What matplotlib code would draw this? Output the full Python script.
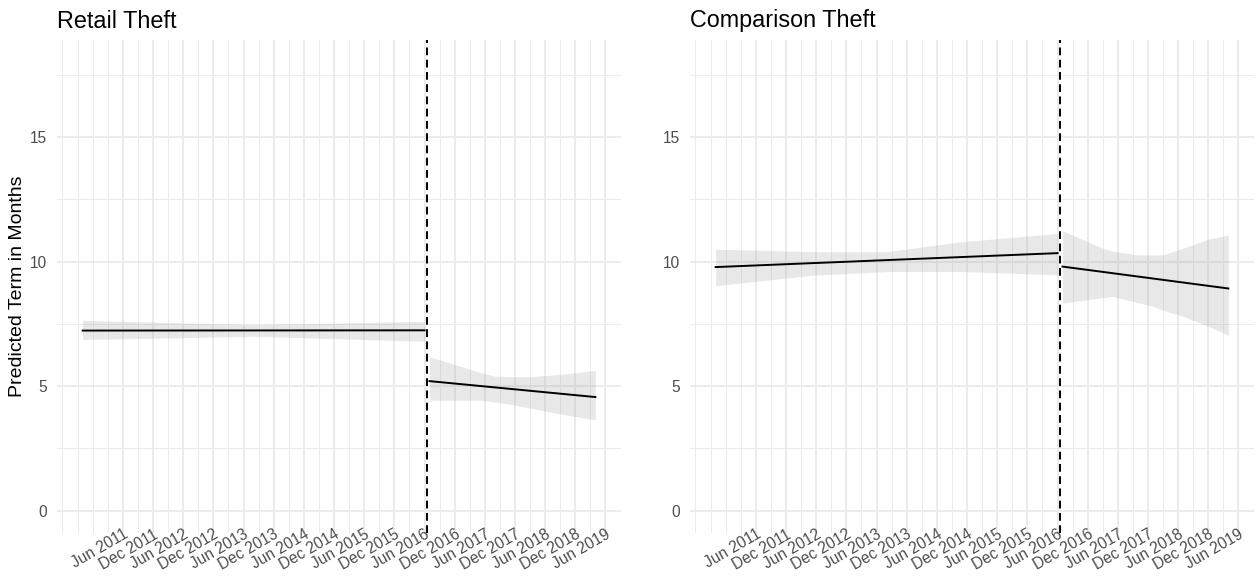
import numpy as np
import matplotlib
matplotlib.use("Agg")
import matplotlib.pyplot as plt
import matplotlib.dates as mdates

plt.rcParams['font.family'] = ['Liberation Sans', 'DejaVu Sans']

# fitted lines (start / end of each segment)
pre_dates = ["2010-10-01", "2016-06-01"]
post_dates = ["2016-07-01", "2019-04-01"]
cutoff = "2016-06-16"

retail_pre_fit = [7.23, 7.24]
retail_post_fit = [5.20, 4.56]
comp_pre_fit = [9.78, 10.34]
comp_post_fit = [9.80, 8.92]

# confidence bands
retail_pre_band_dates = ["2010-10-01", "2013-08-01", "2016-06-01"]
retail_pre_hi = [7.64, 7.47, 7.60]
retail_pre_lo = [6.87, 7.00, 6.80]

retail_post_band_dates = ["2016-07-01", "2017-02-01", "2017-05-01", "2017-08-01", "2017-11-01",
                          "2018-03-01", "2018-06-01", "2018-09-01", "2019-04-01"]
retail_post_hi = [6.18, 5.74, 5.55, 5.40, 5.38, 5.38, 5.42, 5.47, 5.63]
retail_post_lo = [4.43, 4.43, 4.43, 4.36, 4.27, 4.12, 4.00, 3.88, 3.64]

comp_pre_band_dates = ["2010-10-01", "2012-05-01", "2013-08-01", "2014-11-01", "2016-06-01"]
comp_pre_hi = [10.50, 10.40, 10.40, 10.80, 11.13]
comp_pre_lo = [9.03, 9.45, 9.60, 9.60, 9.47]

comp_post_band_dates = ["2016-07-01", "2017-03-01", "2017-05-01", "2017-10-01", "2018-01-01",
                        "2018-03-01", "2018-07-01", "2018-12-01", "2019-04-01"]
comp_post_hi = [11.24, 10.54, 10.42, 10.27, 10.27, 10.27, 10.54, 10.90, 11.07]
comp_post_lo = [8.34, 8.55, 8.60, 8.35, 8.20, 8.05, 7.80, 7.40, 7.04]

titles = ["Retail Theft", "Comparison Theft"]
ylabel = "Predicted Term in Months"

D = lambda s: np.array(s, dtype="datetime64[D]")

panels = [
    (retail_pre_fit, retail_post_fit,
     (retail_pre_band_dates, retail_pre_lo, retail_pre_hi),
     (retail_post_band_dates, retail_post_lo, retail_post_hi)),
    (comp_pre_fit, comp_post_fit,
     (comp_pre_band_dates, comp_pre_lo, comp_pre_hi),
     (comp_post_band_dates, comp_post_lo, comp_post_hi)),
]

W, H = 1257, 586
fig = plt.figure(figsize=(W / 100, H / 100), dpi=100)
grid_col = '#ebebeb'

# x range: data span plus 5% each side
x0 = mdates.date2num(D(pre_dates[0]))
x1 = mdates.date2num(D(post_dates[1]))
pad = 0.05 * (x1 - x0)

major = D([f"{y}-{m:02d}-01" for y in range(2011, 2020) for m in (6, 12)
           if not (y == 2019 and m == 12)])
minor = D([f"{y}-{m:02d}-01" for y in range(2010, 2020) for m in (3, 6, 9, 12)])

for i, (pre_fit, post_fit, pre_band, post_band) in enumerate(panels):
    left = 57 if i == 0 else 690
    ax = fig.add_axes([left / W, 53 / H, 564 / W, 493 / H])
    ax.set_xlim(x0 - pad, x1 + pad)
    ax.set_ylim(-0.9, 18.9)
    for s in ax.spines.values():
        s.set_visible(False)

    # grid
    for m in minor:
        ax.axvline(m, color=grid_col, lw=0.7, zorder=0)
    for m in major:
        ax.axvline(m, color=grid_col, lw=1.3, zorder=0)
    for yv in (2.5, 7.5, 12.5, 17.5):
        ax.axhline(yv, color=grid_col, lw=0.7, zorder=0)
    for yv in (0, 5, 10, 15):
        ax.axhline(yv, color=grid_col, lw=1.3, zorder=0)

    for dates, lo, hi in (pre_band, post_band):
        ax.fill_between(D(dates), lo, hi, color='#999999', alpha=0.22, lw=0, zorder=1)
    ax.plot(D(pre_dates), pre_fit, color='black', lw=1.4, zorder=3)
    ax.plot(D(post_dates), post_fit, color='black', lw=1.4, zorder=3)
    ax.axvline(D(cutoff), color='black', lw=1.4, linestyle=(0, (4, 2.3)), zorder=4)

    ax.set_yticks([0, 5, 10, 15])
    ax.set_xticks(major)
    ax.set_xticklabels([mdates.num2date(mdates.date2num(m)).strftime('%b %Y') for m in major],
                       rotation=30, ha='right', va='top', rotation_mode='anchor')
    ax.tick_params(axis='both', length=0, labelsize=11.2, colors='#4d4d4d')
    ax.tick_params(axis='y', pad=7)
    ax.tick_params(axis='x', pad=-4.5)
    ax.set_title(titles[i], loc='left', fontsize=16.8, color='black', pad=9)
    if i == 0:
        ax.set_ylabel(ylabel, fontsize=14, color='black')
        ax.yaxis.set_label_coords(-31 / 564, 0.5)

fig.savefig('out.png', dpi=100)
